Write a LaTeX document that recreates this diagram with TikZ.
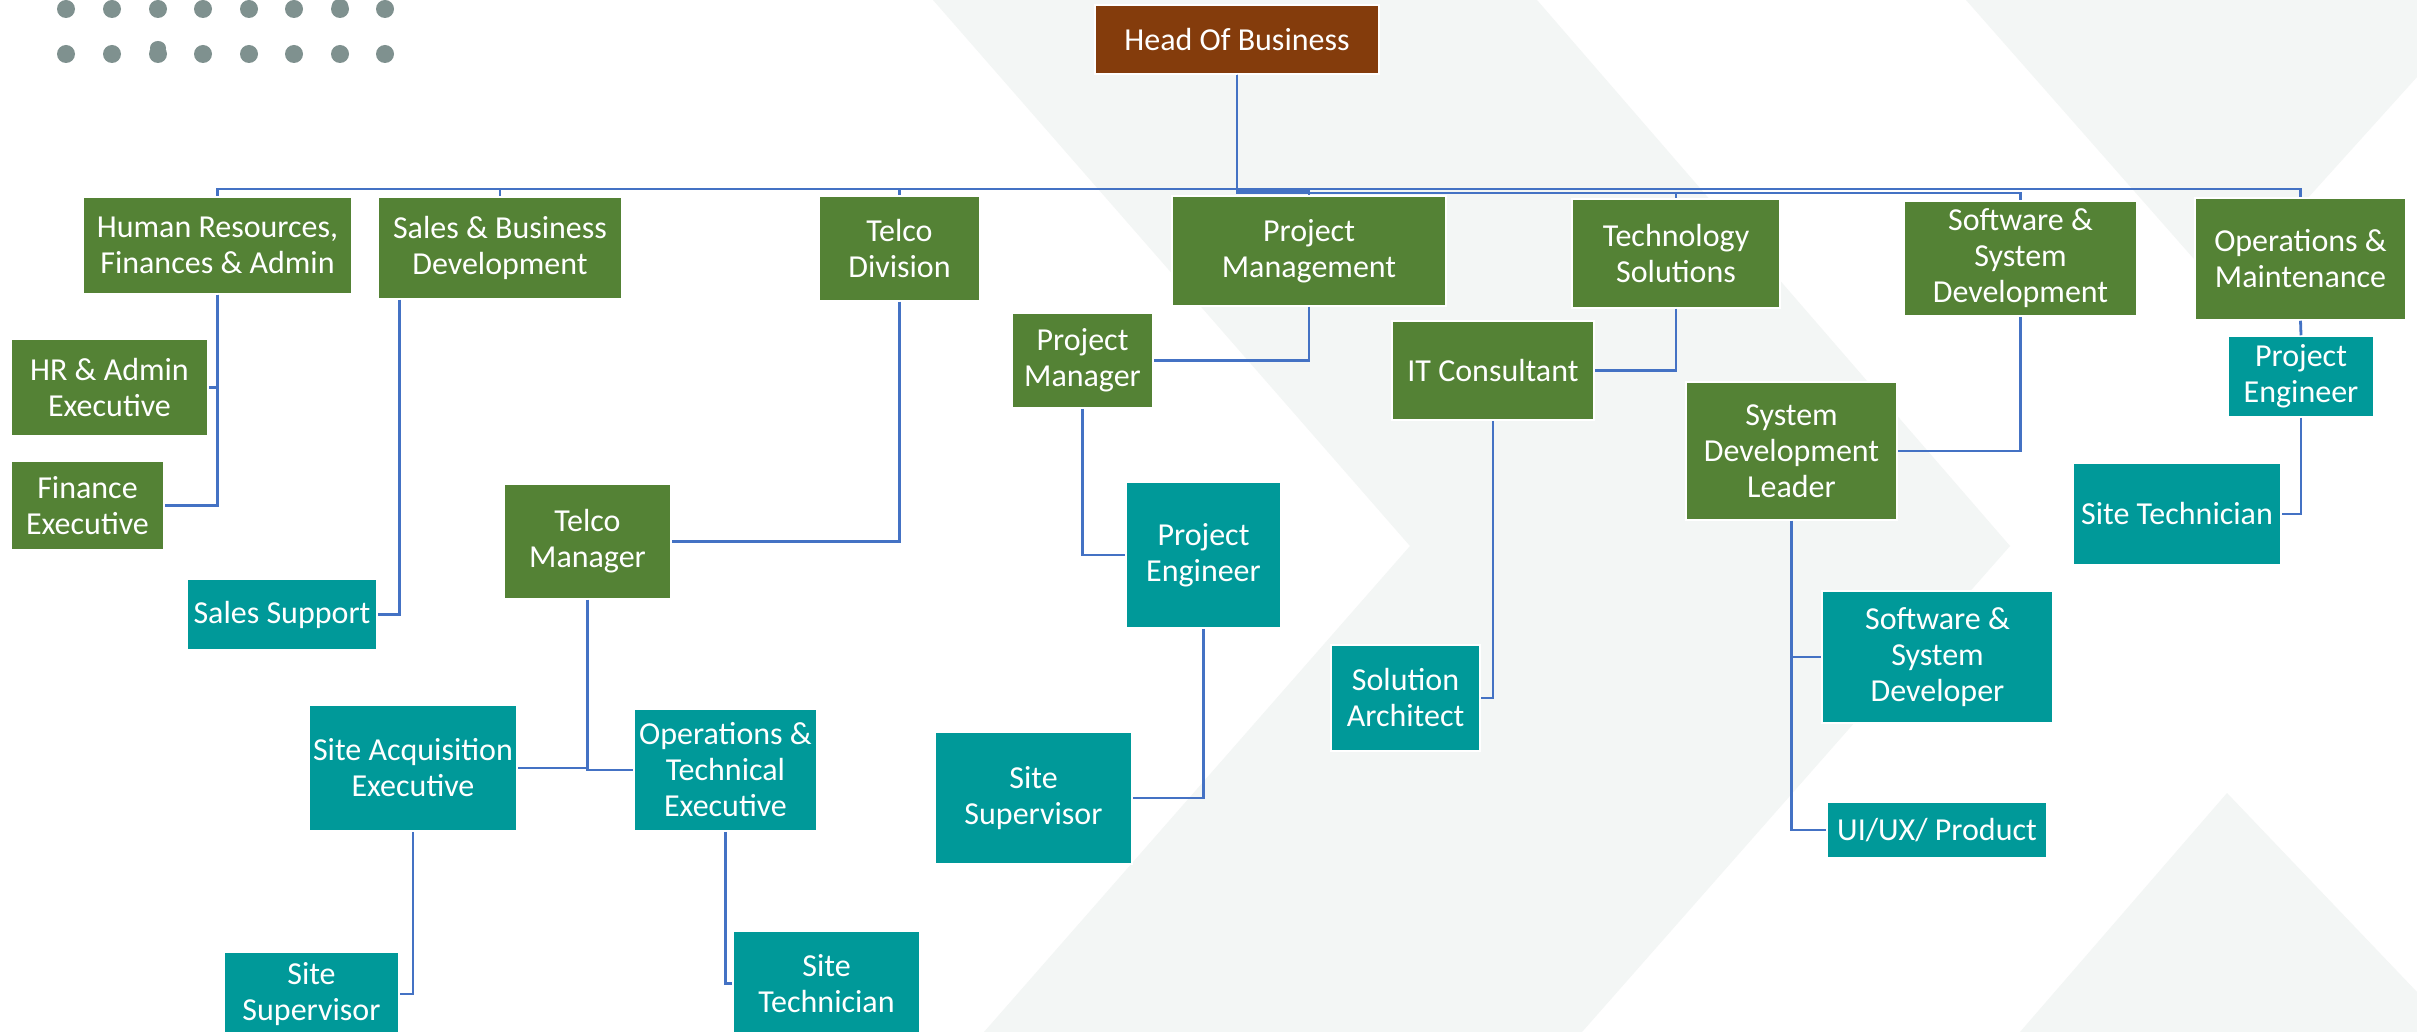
\documentclass[tikz,border=0pt]{standalone}
\usepackage{fontspec}
\setmainfont{Carlito}
\definecolor{orggreen}{HTML}{548235}
\definecolor{orgteal}{HTML}{009999}
\definecolor{orgbrown}{HTML}{843C0C}
\definecolor{orgline}{HTML}{4472C4}
\definecolor{orgdot}{HTML}{7F918F}
\definecolor{orgbg}{HTML}{F3F6F5}
\tikzset{
  box/.style={draw=white, line width=1.5pt, inner sep=0pt, align=center, text=white,
    font=\fontsize{32}{36}\selectfont},
  gbox/.style={box, fill=orggreen},
  tbox/.style={box, fill=orgteal},
  bbox/.style={box, fill=orgbrown},
  conn/.style={draw=orgline, line width=2.8pt},
  bgshape/.style={fill=orgbg, draw=none},
  dotmark/.style={fill=orgdot, draw=none}
}
\newcommand\orgbox[7]{\node[#1, minimum width={(#5-#3)*1pt}, minimum height={(#6-#4)*1pt}] (#2) at ({(#3+#5)/2},{(#4+#6)/2}) {#7};}
\begin{document}
\begin{tikzpicture}[x=1pt,y=-1pt]
\useasboundingbox (0,0) rectangle (2417,1032);
\clip (0,0) rectangle (2417,1032);
\fill[white] (0,0) rectangle (2417,1032);
% background chevrons
\fill[bgshape] (933,0) -- (1537,0) -- (2010,546) -- (1582,1032) -- (984,1032) -- (1410,546) -- cycle;
\fill[bgshape] (1966,0) -- (2417,0) -- (2417,77) -- (2223,292) -- cycle;
\fill[bgshape] (2020,1032) -- (2227,793) -- (2417,992) -- (2417,1032) -- cycle;
% dots
\foreach \dx in {66,112,158,203,249,294,340,385}{
  \fill[dotmark] (\dx,9) circle[radius=9];
  \fill[dotmark] (\dx,54) circle[radius=9];
}
\fill[dotmark] (340,5) ellipse[x radius=8, y radius=6];
\fill[dotmark] (158,48) ellipse[x radius=8, y radius=7];
% bus levels
\coordinate (busA) at (0,189);
\coordinate (busB) at (0,191);
\coordinate (busC) at (0,193);
% top
\orgbox{bbox}{head}{1095}{5}{1379}{74}{Head Of Business}
% level 1
\orgbox{gbox}{hr}{83}{197}{352}{294}{Human Resources,\\Finances \& Admin}
\orgbox{gbox}{sales}{378}{197}{622}{299}{Sales \& Business\\Development}
\orgbox{gbox}{telcodiv}{819}{196}{980}{301}{Telco\\Division}
\orgbox{gbox}{projmgmt}{1172}{196}{1446}{306}{Project\\Management}
\orgbox{gbox}{techsol}{1572}{199}{1780}{308}{Technology\\Solutions}
\orgbox{gbox}{ssdev}{1904}{201}{2137}{316}{Software \&\\System\\Development}
\orgbox{gbox}{opsmaint}{2195}{198}{2406}{320}{Operations \&\\Maintenance}
% level 2
\orgbox{gbox}{hradmin}{11}{339}{208}{436}{HR \& Admin\\Executive}
\orgbox{gbox}{finexec}{11}{461}{164}{550}{Finance\\Executive}
\orgbox{tbox}{salessup}{187}{579}{377}{650}{Sales Support}
\orgbox{gbox}{telcomgr}{504}{484}{671}{599}{Telco\\Manager}
\orgbox{gbox}{pm}{1012}{313}{1153}{408}{Project\\Manager}
\orgbox{gbox}{itc}{1392}{321}{1594}{420}{IT Consultant}
\orgbox{gbox}{sdl}{1686}{382}{1897}{520}{System\\Development\\Leader}
\orgbox{tbox}{peR}{2228}{336}{2374}{417}{Project\\Engineer}
% level 3
\orgbox{tbox}{siteacq}{309}{705}{517}{831}{Site Acquisition\\Executive}
\orgbox{tbox}{opstech}{634}{709}{817}{831}{Operations \&\\Technical\\Executive}
\orgbox{tbox}{peM}{1126}{482}{1281}{628}{Project\\Engineer}
\orgbox{tbox}{sitesupM}{935}{732}{1132}{864}{Site\\Supervisor}
\orgbox{tbox}{solarch}{1331}{645}{1480}{751}{Solution\\Architect}
\orgbox{tbox}{sitetechR}{2073}{463}{2281}{565}{Site Technician}
\orgbox{tbox}{ssdever}{1822}{591}{2053}{723}{Software \&\\System\\Developer}
\orgbox{tbox}{uiux}{1827}{802}{2047}{858}{UI/UX/ Product}
% level 4
\orgbox{tbox}{sitesupL}{224}{952}{399}{1036}{Site\\Supervisor}
\orgbox{tbox}{sitetechL}{733}{931}{920}{1036}{Site\\Technician}
% connectors from head
\draw[conn] (head.south) |- (hr.north |- busA) -- (hr.north);
\draw[conn] (head.south) |- (sales.north |- busA) -- (sales.north);
\draw[conn] (head.south) |- (telcodiv.north |- busA) -- (telcodiv.north);
\draw[conn] (head.south) |- (projmgmt.north |- busB) -- (projmgmt.north);
\draw[conn] (head.south) |- (techsol.north |- busC) -- (techsol.north);
\draw[conn] (head.south) |- (ssdev.north |- busC) -- (ssdev.north);
\draw[conn] (head.south) |- (opsmaint.north |- busA) -- (opsmaint.north);
% lower connectors
\draw[conn] (hr.south) |- (hradmin.east);
\draw[conn] (hr.south) |- (finexec.east);
\draw[conn] ([xshift=22pt]sales.south west) |- (salessup.east);
\draw[conn] (telcodiv.south) |- (telcomgr.east);
\draw[conn] (telcomgr.south) |- (siteacq.east);
\draw[conn] (telcomgr.south) |- (opstech.west);
\draw[conn] (siteacq.south) |- (sitesupL.east);
\draw[conn] (opstech.south) |- (sitetechL.west);
\draw[conn] (projmgmt.south) |- (pm.east);
\draw[conn] (pm.south) |- (peM.west);
\draw[conn] (peM.south) |- (sitesupM.east);
\draw[conn] (techsol.south) |- (itc.east);
\draw[conn] (itc.south) |- (solarch.east);
\draw[conn] (ssdev.south) |- (sdl.east);
\draw[conn] (sdl.south) |- (ssdever.west);
\draw[conn] (sdl.south) |- (uiux.west);
\draw[conn] (opsmaint.south) -- (peR.north);
\draw[conn] (peR.south) |- (sitetechR.east);
\end{tikzpicture}
\end{document}
